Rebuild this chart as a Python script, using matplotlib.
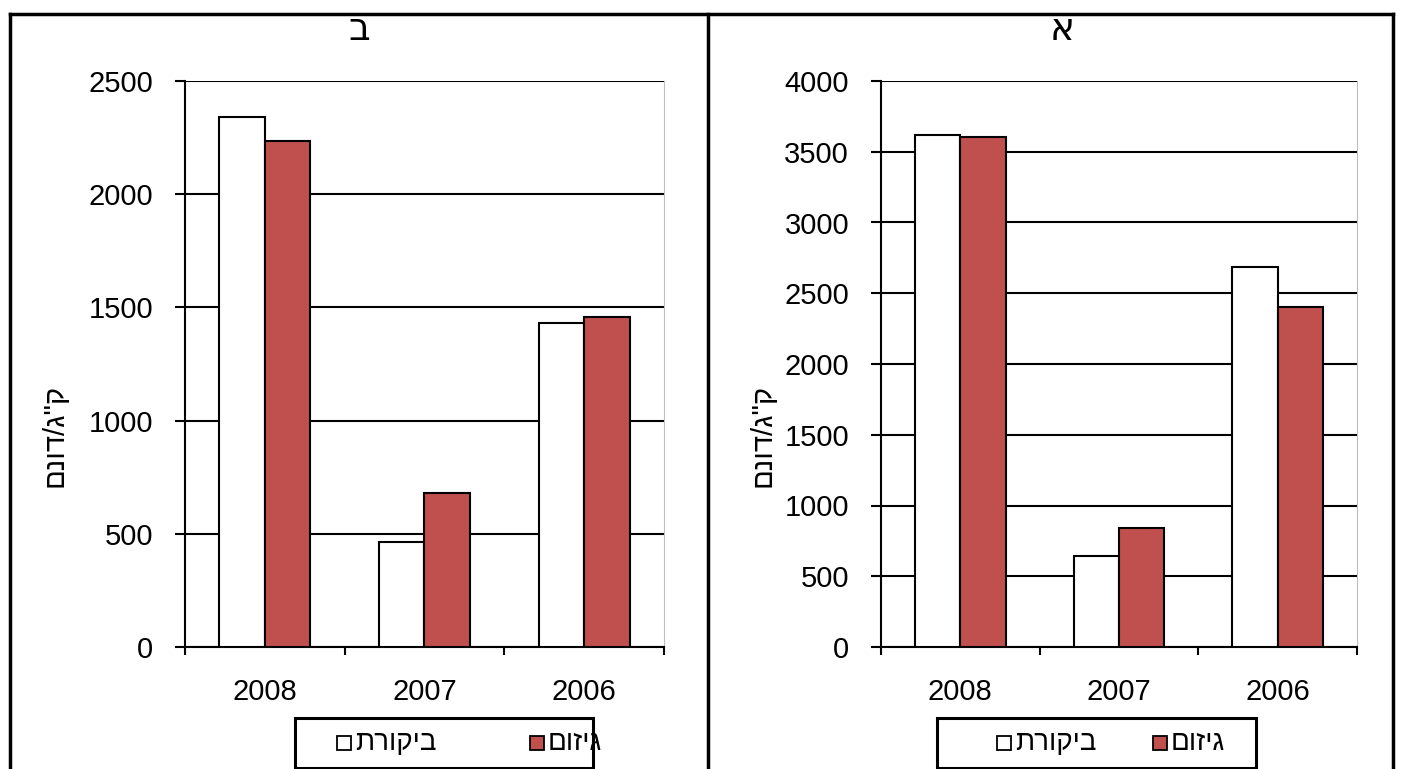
import matplotlib
matplotlib.use('Agg')
import matplotlib.pyplot as plt
import numpy as np
from matplotlib.lines import Line2D
from matplotlib.patches import Rectangle

plt.rcParams['font.family'] = ['Liberation Sans', 'DejaVu Sans']

# Data
years = ['2008', '2007', '2006']
series_names = ['ביקורת', 'גיזום']          # control, pruning
b_control = [2341, 464, 1431]
b_pruning = [2235, 682, 1458]
a_control = [3618, 643, 2686]
a_pruning = [3604, 843, 2403]
ylabel = 'ק"ג/דונם'
red = '#C0504D'


def rtl(s):
    # matplotlib has no bidi support, so flip Hebrew for display
    return s[::-1]


W, H = 1401, 769
fig = plt.figure(figsize=(W / 100, H / 100), dpi=100)


def fx(px):
    return px / W


def fy(py):
    return 1 - py / H


def legend_box(x0, x1, sq_x):
    # hand-drawn legend: box, two swatches, two labels (Excel RTL layout)
    fig.add_artist(Rectangle((fx(x0), fy(768)), fx(x1 - x0), (768 - 718) / H,
                             facecolor='white', edgecolor='black', linewidth=2.2,
                             transform=fig.transFigure))
    colors = ['white', red]
    for sx, c, name in zip(sq_x, colors, series_names):
        fig.add_artist(Rectangle((fx(sx), fy(750)), fx(14), 14 / H, facecolor=c,
                                 edgecolor='black', linewidth=1.3, transform=fig.transFigure))
        fig.text(fx(sx + 18), fy(743), rtl(name), fontsize=20, ha='left', va='center')


def panel(rect, control, pruning, ymax, title, title_x, lab_x, sq_x, box):
    ax = fig.add_axes(rect)
    x = np.arange(len(years))
    bw = 1 / 3.5
    ax.bar(x - bw / 2, control, bw, color='white', edgecolor='black', linewidth=1.5, zorder=3)
    ax.bar(x + bw / 2, pruning, bw, color=red, edgecolor='black', linewidth=1.5, zorder=3)
    ax.set_xlim(-0.5, len(years) - 0.5)
    ax.set_ylim(0, ymax)
    ax.set_yticks(np.arange(0, ymax + 1, 500))
    ax.yaxis.grid(True, color='black', linewidth=1.5, zorder=0)
    ax.set_axisbelow(True)
    ax.set_xticks(x)
    ax.set_xticklabels(years, fontsize=21)
    ax.set_xticks(np.arange(-0.5, len(years)), minor=True)
    ax.tick_params(axis='x', which='major', length=0, pad=22)
    ax.tick_params(axis='x', which='minor', length=6, width=1.5, direction='out')
    ax.tick_params(axis='y', labelsize=21, length=7, width=1.5, pad=16)
    for s in ['left', 'bottom']:
        ax.spines[s].set_linewidth(1.5)
    ax.spines['top'].set_visible(False)
    ax.spines['right'].set_color('#BFBFBF')
    ax.set_ylabel(rtl(ylabel), fontsize=21)
    ax.yaxis.set_label_coords((lab_x - rect[0] * W) / (rect[2] * W), (647 - 435) / 566)
    fig.text(fx(title_x), fy(30), rtl(title), fontsize=27, ha='center', va='center',
             family=['DejaVu Serif', 'DejaVu Sans'])
    legend_box(box[0], box[1], sq_x)
    return ax


# left panel (ב) and right panel (א)
panel([fx(185), fy(647), fx(479), 566 / H], b_control, b_pruning, 2500, 'ב', 359, 68,
      (337, 530), (295, 593))
panel([fx(881), fy(647), fx(476), 566 / H], a_control, a_pruning, 4000, 'א', 1062, 776,
      (997, 1153), (937, 1256))

# table borders around the two charts
for xs, ys in [([10, 1393], [14, 14]), ([10, 10], [14, 769]),
               ([708, 708], [14, 769]), ([1393, 1393], [14, 769])]:
    fig.add_artist(Line2D([fx(v) for v in xs], [fy(v) for v in ys],
                          color='black', linewidth=2.5))

fig.savefig('out.png', dpi=100)
